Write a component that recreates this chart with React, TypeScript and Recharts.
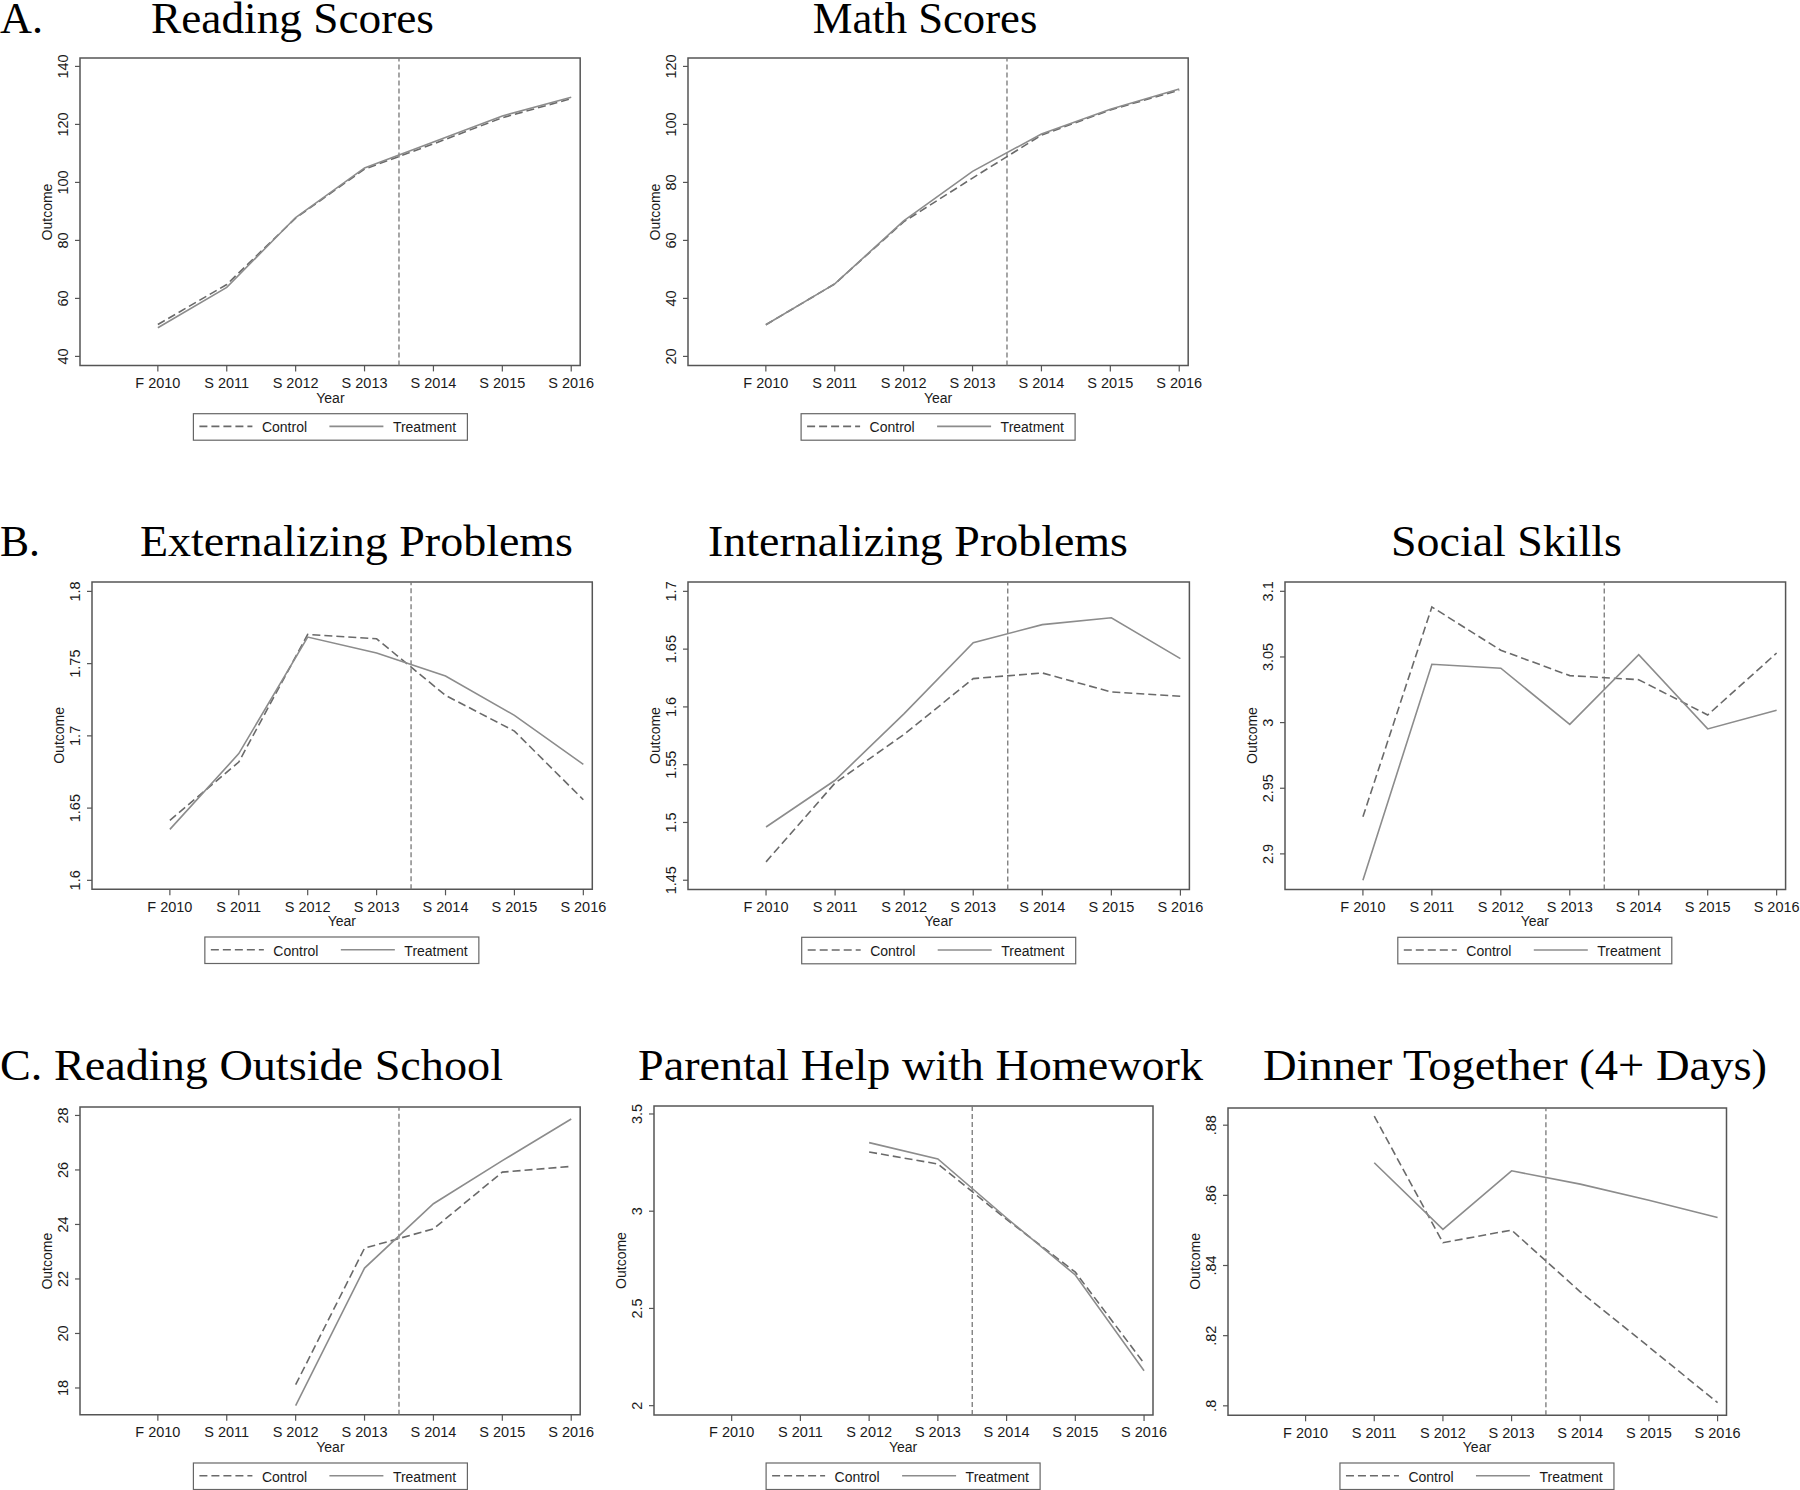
import React from 'react';
import { LineChart, Line, XAxis, YAxis, ReferenceLine, ReferenceArea } from 'recharts';

// survey waves on the x axis (index 0..6)
const WAVES = ['F 2010', 'S 2011', 'S 2012', 'S 2013', 'S 2014', 'S 2015', 'S 2016'];
const WAVE_TICKS = [0, 1, 2, 3, 4, 5, 6];
const CUTOFF = 3.5; // program start, between S 2013 and S 2014

// A. test scores
const readingControl = [51.0, 64.8, 87.7, 104.6, 113.3, 122.3, 128.9];
const readingTreatment = [49.9, 63.8, 87.9, 105.0, 113.9, 122.9, 129.4];
const readingTicks = [40, 60, 80, 100, 120, 140];

const mathControl = [30.9, 45.0, 66.4, 81.5, 96.3, 105.0, 111.8];
const mathTreatment = [30.9, 45.0, 66.7, 83.8, 96.7, 105.2, 112.2];
const mathTicks = [20, 40, 60, 80, 100, 120];

// B. behaviour
const extControl = [1.6415, 1.6819, 1.7702, 1.7672, 1.728, 1.7033, 1.6558];
const extTreatment = [1.6353, 1.6877, 1.7684, 1.7573, 1.7414, 1.7142, 1.6803];
const extTicks = [1.6, 1.65, 1.7, 1.75, 1.8];

const intControl = [1.4659, 1.5342, 1.5763, 1.6245, 1.6294, 1.6129, 1.6092];
const intTreatment = [1.4961, 1.5365, 1.5942, 1.6556, 1.6712, 1.6772, 1.6418];
const intTicks = [1.45, 1.5, 1.55, 1.6, 1.65, 1.7];

const socialControl = [2.9282, 3.0881, 3.0551, 3.0358, 3.0327, 3.0058, 3.053];
const socialTreatment = [2.88, 3.0444, 3.0414, 2.9987, 3.0518, 2.9952, 3.0094];
const socialTicks = [2.9, 2.95, 3, 3.05, 3.1];

// C. home activities (not asked in early waves)
const outsideControl = [null, null, 18.12, 23.13, 23.84, 25.92, 26.13];
const outsideTreatment = [null, null, 17.35, 22.4, 24.76, 26.34, 27.87];
const outsideTicks = [18, 20, 22, 24, 26, 28];

const helpControl = [null, null, 3.3046, 3.2428, 2.958, 2.6866, 2.2177];
const helpTreatment = [null, null, 3.3526, 3.2686, 2.965, 2.672, 2.18];
const helpTicks = [2, 2.5, 3, 3.5];

const dinnerControl = [null, 0.8826, 0.8465, 0.8501, 0.8325, 0.8168, 0.8009];
const dinnerTreatment = [null, 0.8693, 0.8503, 0.867, 0.8632, 0.8586, 0.8537];
const dinnerTicks = [0.8, 0.82, 0.84, 0.86, 0.88];

const SANS = '"Liberation Sans", Arial, sans-serif';
const SERIF = '"Liberation Serif", "Times New Roman", serif';
const X_DOMAIN: [number, number] = [-1.13, 6.13];
const TITLE_SIZE = 45;
const TICK_SIZE = 14.5;

const plain = (v: number) => String(Math.round(v * 1000) / 1000);
const noLead = (v: number) => plain(v).replace(/^0\./, '.');

type Panel = {
  title: string;
  titleSpan: [number, number];
  titleBase: number;
  box: [number, number, number, number]; // x0, y0, x1, y1 of plot region
  yDomain: [number, number];
  yTicks: number[];
  fmt: (v: number) => string;
  control: (number | null)[];
  treatment: (number | null)[];
};

const PANELS: Panel[] = [
  { title: 'Reading Scores', titleSpan: [151, 434], titleBase: 33, box: [80.3, 58.3, 580.5, 365.7], yDomain: [36.9, 142.9], yTicks: readingTicks, fmt: plain, control: readingControl, treatment: readingTreatment },
  { title: 'Math Scores', titleSpan: [812.7, 1037.3], titleBase: 33, box: [688, 58.3, 1188.2, 365.7], yDomain: [16.9, 122.9], yTicks: mathTicks, fmt: plain, control: mathControl, treatment: mathTreatment },
  { title: 'Externalizing Problems', titleSpan: [140, 573], titleBase: 556, box: [91.7, 581.7, 592, 889], yDomain: [1.5938, 1.8065], yTicks: extTicks, fmt: plain, control: extControl, treatment: extTreatment },
  { title: 'Internalizing Problems', titleSpan: [708, 1128], titleBase: 556, box: [688, 581.7, 1189.4, 889.3], yDomain: [1.4419, 1.7081], yTicks: intTicks, fmt: plain, control: intControl, treatment: intTreatment },
  { title: 'Social Skills', titleSpan: [1391, 1622], titleBase: 556, box: [1284.5, 581.7, 1785.1, 889.3], yDomain: [2.8728, 3.1071], yTicks: socialTicks, fmt: plain, control: socialControl, treatment: socialTreatment },
  { title: 'C. Reading Outside School', titleSpan: [0, 503], titleBase: 1080, box: [80.3, 1107.3, 580.5, 1415], yDomain: [17.02, 28.31], yTicks: outsideTicks, fmt: plain, control: outsideControl, treatment: outsideTreatment },
  { title: 'Parental Help with Homework', titleSpan: [638, 1203], titleBase: 1080, box: [653.6, 1106, 1152.6, 1415], yDomain: [1.952, 3.541], yTicks: helpTicks, fmt: plain, control: helpControl, treatment: helpTreatment },
  { title: 'Dinner Together (4+ Days)', titleSpan: [1263, 1767], titleBase: 1080, box: [1227.7, 1107.7, 1726.2, 1415], yDomain: [0.7973, 0.8849], yTicks: dinnerTicks, fmt: noLead, control: dinnerControl, treatment: dinnerTreatment },
];

const Y_AXIS_W = 80;
const PAD_TOP = 10;
const PAD_RIGHT = 20;
const X_AXIS_H = 30;

const RotatedTick = (props: any) => {
  const { x, y, payload, fmt } = props;
  return (
    <text
      x={x}
      y={y}
      transform={`rotate(-90 ${x} ${y})`}
      textAnchor="middle"
      fill="#1a1a1a"
      fontSize={TICK_SIZE}
      fontFamily={SANS}
    >
      {fmt(payload.value)}
    </text>
  );
};

function PanelChart({ p }: { p: Panel }) {
  const [x0, y0, x1, y1] = p.box;
  const width = x1 - x0 + Y_AXIS_W + PAD_RIGHT;
  const height = y1 - y0 + PAD_TOP + X_AXIS_H;
  const data = WAVE_TICKS.map((t) => ({ t, control: p.control[t], treatment: p.treatment[t] }));

  return (
    <div style={{ position: 'absolute', left: x0 - Y_AXIS_W, top: y0 - PAD_TOP }}>
      <LineChart width={width} height={height} data={data} margin={{ top: PAD_TOP, right: PAD_RIGHT, left: 0, bottom: 0 }}>
        <XAxis
          type="number"
          dataKey="t"
          domain={X_DOMAIN}
          ticks={WAVE_TICKS}
          interval={0}
          allowDataOverflow
          height={X_AXIS_H}
          axisLine={false}
          tickLine={{ stroke: '#555', strokeWidth: 1.2 }}
          tickSize={6}
          tickMargin={6}
          tickFormatter={(v) => WAVES[v]}
          tick={{ fill: '#1a1a1a', fontSize: TICK_SIZE, fontFamily: SANS }}
        />
        <YAxis
          type="number"
          domain={p.yDomain}
          ticks={p.yTicks}
          interval={0}
          allowDataOverflow
          width={Y_AXIS_W}
          axisLine={false}
          tickLine={{ stroke: '#555', strokeWidth: 1.2 }}
          tickSize={5}
          tickMargin={7}
          tick={<RotatedTick fmt={p.fmt} />}
        />
        <ReferenceArea
          x1={X_DOMAIN[0]}
          x2={X_DOMAIN[1]}
          y1={p.yDomain[0]}
          y2={p.yDomain[1]}
          fill="none"
          fillOpacity={0}
          stroke="#555"
          strokeWidth={1.5}
          ifOverflow="visible"
        />
        <ReferenceLine x={CUTOFF} stroke="#777" strokeWidth={1.3} strokeDasharray="5 3" ifOverflow="visible" />
        <Line
          type="linear"
          dataKey="control"
          stroke="#6a6a6a"
          strokeWidth={1.6}
          strokeDasharray="8 4"
          dot={false}
          isAnimationActive={false}
        />
        <Line
          type="linear"
          dataKey="treatment"
          stroke="#8c8c8c"
          strokeWidth={1.6}
          dot={false}
          isAnimationActive={false}
        />
      </LineChart>
    </div>
  );
}

function Overlay() {
  const textSans = { fontFamily: SANS, fontSize: 14, fill: '#1a1a1a' };
  return (
    <svg width={1800} height={1490} style={{ position: 'absolute', left: 0, top: 0, pointerEvents: 'none' }}>
      <text x={0} y={33} fontFamily={SERIF} fontSize={TITLE_SIZE} textLength={43} lengthAdjust="spacingAndGlyphs">A.</text>
      <text x={0} y={556} fontFamily={SERIF} fontSize={TITLE_SIZE} textLength={40} lengthAdjust="spacingAndGlyphs">B.</text>
      {PANELS.map((p) => {
        const [x0, y0, x1, y1] = p.box;
        const cx = (x0 + x1) / 2;
        const cy = (y0 + y1) / 2;
        const lx = cx - 137;
        const ly = y1 + 48;
        return (
          <g key={p.title}>
            <text
              x={p.titleSpan[0]}
              y={p.titleBase}
              fontFamily={SERIF}
              fontSize={TITLE_SIZE}
              textLength={p.titleSpan[1] - p.titleSpan[0]}
              lengthAdjust="spacingAndGlyphs"
            >
              {p.title}
            </text>
            <text x={cx} y={y1 + 37} textAnchor="middle" {...textSans}>Year</text>
            <text
              x={x0 - 28}
              y={cy}
              transform={`rotate(-90 ${x0 - 28} ${cy})`}
              textAnchor="middle"
              {...textSans}
            >
              Outcome
            </text>
            <rect x={lx} y={ly} width={274} height={26.5} fill="#fff" stroke="#666" strokeWidth={1.2} />
            <line x1={lx + 6} x2={lx + 59} y1={ly + 12.7} y2={ly + 12.7} stroke="#6a6a6a" strokeWidth={1.6} strokeDasharray="8 4" />
            <text x={lx + 68.5} y={ly + 18.7} {...textSans}>Control</text>
            <line x1={lx + 136} x2={lx + 190} y1={ly + 12.7} y2={ly + 12.7} stroke="#8c8c8c" strokeWidth={1.6} />
            <text x={lx + 199.5} y={ly + 18.7} {...textSans}>Treatment</text>
          </g>
        );
      })}
    </svg>
  );
}

export default function App() {
  return (
    <div style={{ position: 'relative', width: 1800, height: 1490, overflow: 'hidden', background: '#fff' }}>
      <style>{'body{margin:0}'}</style>
      {PANELS.map((p) => (
        <PanelChart key={p.title} p={p} />
      ))}
      <Overlay />
    </div>
  );
}
